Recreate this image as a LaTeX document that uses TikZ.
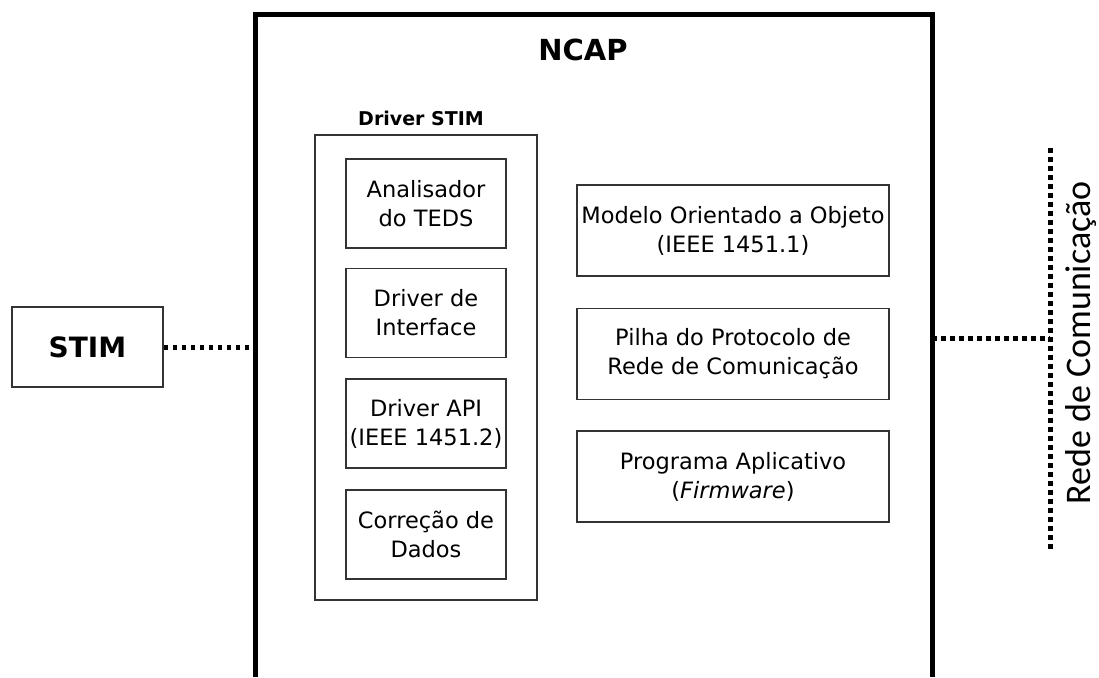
\documentclass[tikz,border=0pt]{standalone}
\usepackage{fontspec}
\setmainfont{DejaVu Sans}
\newfontfamily\calfont{Carlito}
\usetikzlibrary{positioning}

\tikzset{
  blk/.style={draw=black!80, line width=1.6pt, fill=white, align=center,
    inner sep=0pt, font=\fontsize{22.5}{29}\selectfont},
  drvbox/.style={blk, minimum width=160pt, minimum height=89pt},
  appbox/.style={blk, minimum width=312pt, minimum height=91pt},
  dots/.style={line width=5pt, dash pattern=on 4.5pt off 4.5pt},
}

\begin{document}
\begin{tikzpicture}[x=1pt,y=-1pt]
  \useasboundingbox (0,0) rectangle (1099,677);
  % NCAP, open at the bottom
  \draw[line width=5pt] (255,677) -- (255,15) -- (932,15) -- (932,677);
  \node[font=\fontsize{29}{32}\selectfont\bfseries] (ncap) at (583,50) {NCAP};
  \coordinate (ncapw) at (255,347);
  \coordinate (ncape) at (932,338);

  % STIM
  \node[blk, minimum width=151pt, minimum height=80pt,
    font=\fontsize{28}{32}\selectfont\bfseries] (stim) at (87.5,347) {STIM};

  % driver STIM
  \node[draw=black!80, line width=1.6pt, minimum width=222pt, minimum height=465pt] (drv) at (426,367.5) {};
  \node[font=\fontsize{19}{22}\selectfont\bfseries] (drvlbl) at (421,118) {Driver STIM};
  \node[drvbox] (teds) at (426,203.5) {Analisador\\do TEDS};
  \node[drvbox, below=19pt of teds] (intf) {Driver de\\Interface};
  \node[drvbox, below=20pt of intf] (api) {Driver API\\(IEEE 1451.2)};
  \node[drvbox, below=20pt of api] (corr) {Correção de\\Dados};

  % right column
  \node[appbox] (obj) at (733,230.5) {Modelo Orientado a Objeto\\(IEEE 1451.1)};
  \node[appbox, below=31pt of obj] (pilha) {Pilha do Protocolo de\\Rede de Comunicação};
  \node[appbox, below=30pt of pilha] (prog) {Programa Aplicativo\\(\textit{Firmware})};

  % network
  \coordinate (nettop) at (1050,148);
  \coordinate (netmid) at (1050,338);
  \coordinate (netbot) at (1050,550);
  \node[rotate=90, font=\calfont\fontsize{36}{40}\selectfont] (rede) at (1081,343) {Rede de Comunicação};

  \draw[dots] (stim) -- (ncapw);
  \draw[dots] (ncape) -- (netmid);
  \draw[dots] (nettop) -- (netbot);
\end{tikzpicture}
\end{document}
